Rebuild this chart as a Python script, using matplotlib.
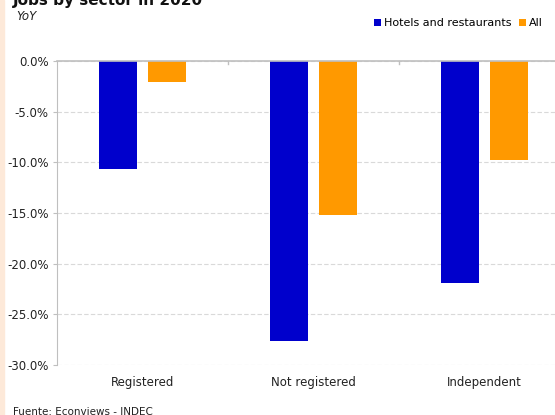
import matplotlib.pyplot as plt
import numpy as np
from matplotlib.patches import Rectangle

categories = ["Registered", "Not registered", "Independent"]
hotels = [-10.7, -27.6, -21.9]
all_jobs = [-2.1, -15.2, -9.8]
series_names = ["Hotels and restaurants", "All"]
yticks = [0, -5, -10, -15, -20, -25, -30]

blue = "#0000CC"
orange = "#FF9900"
grey = "#BFBFBF"

plt.rcParams["font.family"] = ["DejaVu Sans"]

fig = plt.figure(figsize=(5.55, 4.15), dpi=100)
W, H = 555, 415
# axes spans x 57..570 px (runs past the right edge), y 61..365 px
ax = fig.add_axes([57 / W, 1 - 365 / H, (570 - 57) / W, (365 - 61) / H])

# peach strip on the left edge
fig.patches.append(Rectangle((0, 0), 3.5 / W, 1, transform=fig.transFigure,
                             color="#FDE9D9", zorder=0))

x = np.arange(len(categories))
w = 0.222
off = 0.142
ax.bar(x - off, hotels, w, color=blue, label=series_names[0], zorder=3)
ax.bar(x + off, all_jobs, w, color=orange, label=series_names[1], zorder=3)

ax.set_xlim(-0.5, len(categories) - 0.5)
ax.set_ylim(-30, 0)
ax.set_yticks(yticks)
ax.set_yticklabels([f"{v:.1f}%" for v in yticks], fontsize=8.5, color="#222222")
ax.yaxis.grid(True, color="#D9D9D9", linestyle=(0, (4, 2)), linewidth=0.8, zorder=0)

ax.set_xticks([])
for b in np.arange(0.5, len(categories) - 0.5, 1):
    ax.plot([b, b], [0, -0.3], color=grey, lw=1, clip_on=False, zorder=4)
for i, c in enumerate(categories):
    ax.text(i, -31.7, c, ha="center", va="center", fontsize=8.5, color="#222222")

for s in ["right", "bottom"]:
    ax.spines[s].set_visible(False)
ax.spines["top"].set_color(grey)
ax.spines["top"].set_linewidth(1.2)
ax.spines["top"].set_zorder(5)
ax.spines["left"].set_color(grey)
ax.tick_params(axis="y", length=3, color=grey, pad=3)

fig.text(13 / W, 1 - 5 / H, "Jobs by sector in 2020", fontsize=11, fontweight="bold",
         ha="left", va="baseline", color="#111111")
fig.text(16 / W, 1 - 17 / H, "YoY", fontsize=8.5, style="italic", ha="left",
         va="center", color="#222222")
fig.text(13 / W, 1 - 412 / H, "Fuente: Econviews - INDEC", fontsize=7.5, ha="left",
         va="center", color="#222222")

ax.legend(loc="upper left", bbox_to_anchor=(374 / W, 1 - 18 / H),
          bbox_transform=fig.transFigure, ncol=2, frameon=False, fontsize=8,
          handlelength=0.6, handleheight=0.6, handletextpad=0.3, columnspacing=0.7,
          borderpad=0, borderaxespad=0)

fig.savefig("out.png", dpi=100)
